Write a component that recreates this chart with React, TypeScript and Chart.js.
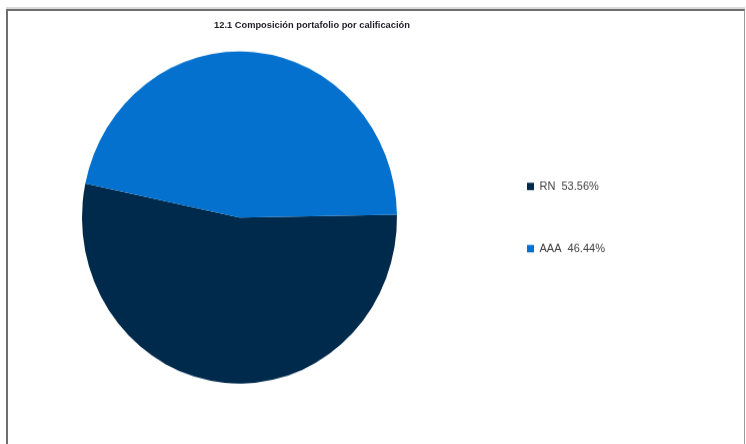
import React, { useEffect, useRef } from "react";
import { Chart, registerables } from "chart.js";

Chart.register(...registerables);

const TITLE = "12.1 Composición portafolio por calificación";
const categories = ["RN", "AAA"];
const values = [53.56, 46.44];
const colors = ["#002A4C", "#0371CD"];

const CW = 746;
const CH = 421; // internal canvas height, displayed stretched to 444

export default function App() {
  const ref = useRef<HTMLCanvasElement | null>(null);

  useEffect(() => {
    document.body.style.overflow = "hidden";
    const canvas = ref.current;
    if (!canvas) return;
    const chart = new Chart(canvas, {
      type: "pie",
      data: {
        labels: categories,
        datasets: [
          {
            data: values,
            backgroundColor: colors,
            borderWidth: 0,
            hoverOffset: 0,
          },
        ],
      },
      options: {
        responsive: false,
        animation: false,
        rotation: 89,
        layout: { padding: { top: 48.7, bottom: 57.3, left: 0, right: 135 } },
        plugins: {
          title: { display: false },
          tooltip: { enabled: false },
          legend: {
            position: "right",
            maxWidth: 132,
            labels: {
              boxWidth: 7,
              boxHeight: 7,
              padding: 48,
              color: "#404040",
              font: { family: "'Liberation Sans', Arial, sans-serif", size: 11 },
              generateLabels: (c: any) => {
                const ds = c.data.datasets[0];
                return (c.data.labels as string[]).map((l, i) => ({
                  text: `${l}  ${(ds.data[i] as number).toFixed(2)}%`,
                  fillStyle: (ds.backgroundColor as string[])[i],
                  strokeStyle: (ds.backgroundColor as string[])[i],
                  lineWidth: 0,
                  hidden: false,
                  index: i,
                  fontColor: "#404040",
                }));
              },
            },
          },
        },
      },
    });
    return () => chart.destroy();
  }, []);

  return (
    <div style={{ position: "absolute", left: 0, top: 0, width: 746, height: 444, background: "#fff", overflow: "hidden" }}>
      <div
        style={{
          position: "absolute",
          left: 6,
          top: 9,
          width: 736,
          height: 433,
          borderTop: "2px solid #6e6e6e",
          borderLeft: "2px solid #6e6e6e",
          borderRight: "1px solid #9a9a9a",
          boxShadow: "0 -2px 0 #d9d9d9",
        }}
      />
      <canvas
        ref={ref}
        width={CW}
        height={CH}
        style={{ position: "absolute", left: 0, top: 0, width: 746, height: 444 }}
      />
      <div
        style={{
          position: "absolute",
          left: 0,
          top: 20,
          width: 624,
          textAlign: "center",
          fontFamily: "'Liberation Sans', Arial, sans-serif",
          fontWeight: "bold",
          fontSize: 9.3,
          color: "#1e1e28",
          whiteSpace: "nowrap",
        }}
      >
        {TITLE}
      </div>
    </div>
  );
}
